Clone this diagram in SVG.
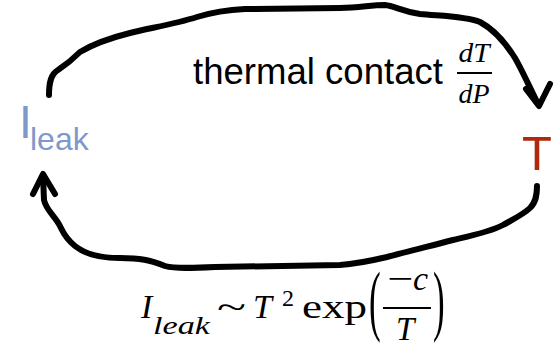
<svg xmlns="http://www.w3.org/2000/svg" width="555" height="346" viewBox="0 0 555 346">
<style>
.c{fill:none;stroke:#000;stroke-width:6;stroke-linecap:round;stroke-linejoin:round}
.s{font-family:"Liberation Sans",Arial,sans-serif}
.m{font-family:"Liberation Serif","Times New Roman",serif;fill:#000}
.i{font-style:italic}
</style>
<rect width="555" height="346" fill="#fff"/>
<g id="connectors">
<path class="c" d="M49,95 C49,82 51,74 58,70 C64,66 70,62 80,52 C90,46 110,38 130,33 C150,28 175,24 197,17 C210,13 225,10 245,9 L340,8 C360,8 370,5 385,5 C395,6 400,11 420,14 C440,16 465,16 480,22 C495,30 505,42 515,58 C522,70 530,88 538,104"/>
<path class="c" d="M526,89 L539,106 L550,84"/>
<path class="c" d="M537,186 C537,195 536,202 530,208 C524,214 512,220 503,225 C490,232 470,236 453,240 C430,246 405,252 387,257 C370,261 355,264 340,265 L215,267 C195,268 175,269 165,266 C150,260 140,258 120,258 C100,258 85,254 75,246 C65,238 63,232 60,226 C55,216 46,210 44,200 L43,176"/>
<path class="c" d="M33,194 L43,174 L55,194"/>
</g>
<g id="node-ileak">
<text class="s" x="19" y="138" font-size="46" fill="#7F98CC">I</text>
<text class="s" x="30" y="150" font-size="32" fill="#7F98CC">leak</text>
</g>
<g id="node-t">
<text class="s" x="522" y="170" font-size="49" fill="#B0290A">T</text>
</g>
<g id="label-top">
<text class="s" x="193" y="84" font-size="36" fill="#000" textLength="250" lengthAdjust="spacingAndGlyphs">thermal contact</text>
<text class="m i" x="474" y="62" font-size="27" text-anchor="middle" textLength="31" lengthAdjust="spacingAndGlyphs">dT</text>
<line x1="457" y1="73" x2="492" y2="73" stroke="#000" stroke-width="2"/>
<text class="m i" x="474" y="103" font-size="27" text-anchor="middle" textLength="31" lengthAdjust="spacingAndGlyphs">dP</text>
</g>
<g id="label-bottom">
<text class="m i" x="141" y="318" font-size="34">I</text>
<text class="m i" x="153" y="334" font-size="26" textLength="57" lengthAdjust="spacingAndGlyphs">leak</text>
<text class="m" x="217" y="318" font-size="34" textLength="29" lengthAdjust="spacingAndGlyphs">~</text>
<text class="m i" x="253" y="318" font-size="34">T</text>
<text class="m" x="282" y="306" font-size="24">2</text>
<text class="m" x="302" y="318" font-size="34" textLength="65" lengthAdjust="spacingAndGlyphs">exp</text>
<text class="m" font-size="78" transform="translate(369,326) scale(0.45,1)">(</text>
<text class="m" x="387" y="290" font-size="34" textLength="26" lengthAdjust="spacingAndGlyphs">−</text>
<text class="m i" x="413" y="290" font-size="34">c</text>
<line x1="383" y1="308" x2="431" y2="308" stroke="#000" stroke-width="2.2"/>
<text class="m i" x="396" y="340" font-size="33">T</text>
<text class="m" font-size="78" transform="translate(433,326) scale(0.45,1)">)</text>
</g>
</svg>
